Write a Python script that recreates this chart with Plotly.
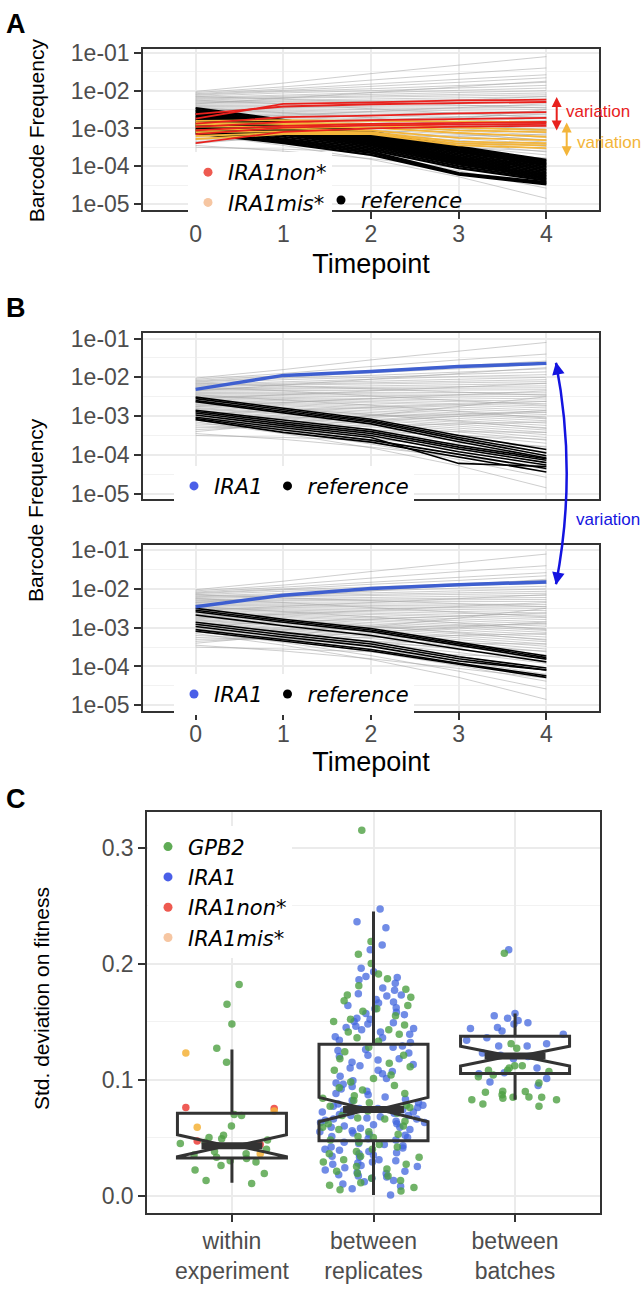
import plotly.graph_objects as go

W, H = 644, 1292
FONT = "Liberation Sans, Arial, sans-serif"
LEG_FONT = "DejaVu Sans, Verdana, sans-serif"

TIMEPOINTS = [0, 1, 2, 3, 4]
FREQ_TICKS = [1e-5, 1e-4, 1e-3, 1e-2, 1e-1]
FREQ_LABELS = ["1e-05", "1e-04", "1e-03", "1e-02", "1e-01"]
FREQ_MINOR = [3.16e-5, 3.16e-4, 3.16e-3, 3.16e-2]

# log10 barcode frequency at timepoints 0..4
BACKGROUND = [
    [-2.02, -1.80, -1.55, -1.32, -1.10], [-2.05, -1.90, -1.72, -1.55, -1.40],
    [-2.08, -1.95, -1.82, -1.70, -1.58], [-2.10, -2.00, -1.88, -1.78, -1.66],
    [-2.12, -2.02, -1.95, -1.86, -1.78], [-2.15, -2.06, -2.00, -1.92, -1.86],
    [-2.18, -2.12, -2.05, -1.98, -1.93], [-2.20, -2.15, -2.10, -2.05, -2.00],
    [-2.22, -2.18, -2.14, -2.10, -2.06], [-2.25, -2.20, -2.17, -2.14, -2.11],
    [-2.28, -2.25, -2.22, -2.19, -2.16], [-2.30, -2.28, -2.26, -2.24, -2.22],
    [-2.32, -2.30, -2.29, -2.28, -2.27], [-2.35, -2.34, -2.33, -2.33, -2.32],
    [-2.38, -2.38, -2.38, -2.39, -2.40], [-2.40, -2.41, -2.42, -2.43, -2.45],
    [-2.42, -2.44, -2.46, -2.48, -2.50], [-2.45, -2.47, -2.50, -2.53, -2.56],
    [-2.48, -2.51, -2.55, -2.58, -2.62], [-2.50, -2.54, -2.58, -2.63, -2.68],
    [-2.52, -2.57, -2.62, -2.68, -2.74], [-2.55, -2.60, -2.66, -2.72, -2.79],
    [-2.58, -2.64, -2.70, -2.77, -2.85], [-2.60, -2.67, -2.74, -2.82, -2.90],
    [-2.62, -2.70, -2.78, -2.87, -2.96], [-2.65, -2.73, -2.82, -2.92, -3.02],
    [-2.68, -2.77, -2.86, -2.96, -3.07], [-2.70, -2.80, -2.90, -3.01, -3.12],
    [-2.72, -2.83, -2.94, -3.06, -3.18], [-2.75, -2.86, -2.98, -3.11, -3.24],
    [-2.78, -2.90, -3.03, -3.16, -3.30], [-2.80, -2.93, -3.07, -3.21, -3.36],
    [-2.82, -2.96, -3.10, -3.26, -3.42], [-2.85, -3.00, -3.15, -3.31, -3.48],
    [-2.88, -3.03, -3.19, -3.36, -3.55], [-2.90, -3.06, -3.23, -3.41, -3.62],
    [-2.92, -3.10, -3.28, -3.48, -3.70], [-2.95, -3.14, -3.34, -3.56, -3.80],
    [-2.98, -3.18, -3.40, -3.64, -3.92], [-3.00, -3.22, -3.46, -3.74, -4.05],
    [-3.02, -3.27, -3.55, -3.86, -4.20], [-3.05, -3.32, -3.62, -3.98, -4.38],
    [-3.10, -3.38, -3.72, -4.12, -4.58], [-3.15, -3.45, -3.82, -4.28, -4.85],
    [-3.20, -3.30, -3.40, -3.50, -3.60], [-3.25, -3.32, -3.36, -3.40, -3.42],
    [-3.30, -3.28, -3.25, -3.20, -3.15], [-3.35, -3.25, -3.12, -3.00, -2.85],
    [-3.40, -3.20, -2.98, -2.75, -2.50], [-3.45, -3.60, -3.80, -4.05, -4.30],
    [-3.50, -3.55, -3.62, -3.70, -3.78], [-2.15, -2.22, -2.30, -2.38, -2.46],
    [-2.35, -2.20, -2.05, -1.90, -1.75], [-2.55, -2.45, -2.35, -2.25, -2.15],
    [-2.75, -2.65, -2.55, -2.45, -2.35], [-2.95, -2.85, -2.78, -2.70, -2.62],
    [-3.10, -3.05, -3.00, -2.95, -2.90], [-2.25, -2.35, -2.48, -2.60, -2.72],
    [-2.45, -2.58, -2.72, -2.88, -3.05], [-2.65, -2.80, -2.96, -3.13, -3.32],
]

REF_A = [
    [-2.46, -2.78, -3.09, -3.48, -3.83], [-2.50, -2.81, -3.12, -3.52, -3.87],
    [-2.54, -2.84, -3.15, -3.56, -3.91], [-2.58, -2.87, -3.18, -3.60, -3.95],
    [-2.62, -2.90, -3.21, -3.63, -3.98], [-2.66, -2.93, -3.24, -3.67, -4.02],
    [-2.70, -2.96, -3.27, -3.71, -4.06], [-2.74, -2.99, -3.30, -3.75, -4.10],
    [-2.78, -3.02, -3.33, -3.79, -4.14], [-2.82, -3.05, -3.37, -3.83, -4.18],
    [-2.86, -3.09, -3.41, -3.87, -4.22], [-2.90, -3.13, -3.45, -3.91, -4.26],
    [-2.94, -3.17, -3.49, -3.95, -4.30], [-2.98, -3.22, -3.53, -4.00, -4.34],
    [-3.02, -3.27, -3.57, -4.05, -4.38], [-3.06, -3.31, -3.61, -4.18, -4.42],
    [-3.10, -3.35, -3.65, -4.20, -4.45], [-3.13, -3.39, -3.70, -4.22, -4.48],
]
MIS_A = [
    [-2.80, -2.78, -2.80, -2.82, -2.83], [-2.90, -2.85, -2.88, -2.98, -3.04],
    [-2.95, -2.95, -2.98, -3.12, -3.22], [-3.05, -3.00, -3.05, -3.25, -3.31],
    [-3.10, -3.08, -3.10, -3.35, -3.39], [-3.20, -3.12, -3.12, -3.40, -3.45],
    [-3.28, -3.15, -3.15, -3.45, -3.52], [-2.85, -2.88, -2.92, -3.05, -3.10],
]
NON_A = [
    [-2.74, -2.35, -2.31, -2.26, -2.24], [-2.62, -2.42, -2.36, -2.32, -2.30],
    [-2.87, -2.70, -2.66, -2.60, -2.57], [-2.96, -2.83, -2.78, -2.75, -2.72],
    [-3.05, -2.93, -2.88, -2.85, -2.83], [-3.39, -3.09, -3.00, -2.95, -2.93],
    [-3.15, -2.98, -2.92, -2.90, -2.88],
]

IRA1_B1 = [-2.31, -1.95, -1.85, -1.72, -1.64]
REF_B1 = [
    [-2.51, -2.80, -3.08, -3.50, -3.86], [-2.55, -2.84, -3.12, -3.55, -3.95],
    [-2.60, -2.88, -3.15, -3.60, -4.02], [-2.63, -2.92, -3.20, -3.66, -4.08],
    [-2.85, -3.10, -3.35, -3.75, -4.10], [-2.88, -3.15, -3.40, -3.80, -4.14],
    [-2.92, -3.20, -3.45, -3.85, -4.20], [-2.97, -3.25, -3.50, -3.92, -4.26],
    [-3.03, -3.30, -3.55, -4.22, -4.30], [-3.06, -3.36, -3.62, -3.98, -4.35],
    [-3.09, -3.42, -3.67, -4.05, -4.44],
]
IRA1_B2 = [-2.46, -2.16, -1.99, -1.89, -1.82]
REF_B2 = [
    [-2.50, -2.78, -3.02, -3.38, -3.73], [-2.55, -2.82, -3.06, -3.42, -3.77],
    [-2.59, -2.86, -3.10, -3.46, -3.81], [-2.67, -2.95, -3.20, -3.55, -3.88],
    [-2.86, -3.12, -3.36, -3.75, -4.04], [-2.91, -3.18, -3.42, -3.80, -4.09],
    [-2.97, -3.24, -3.48, -3.86, -4.09], [-3.05, -3.30, -3.56, -3.92, -4.24],
    [-3.09, -3.35, -3.60, -3.94, -4.28],
]

# panel C
CATEGORIES = ["within<br>experiment", "between<br>replicates", "between<br>batches"]
Q1 = [0.0325, 0.0472, 0.1053]
MEDIAN = [0.043, 0.0742, 0.1203]
Q3 = [0.071, 0.1305, 0.1373]
LOWER = [0.011, 0.0005, 0.0827]
UPPER = [0.126, 0.245, 0.157]
NOTCH = [0.0095, 0.0105, 0.0085]

GPB2_WITHIN = [0.182, 0.165, 0.148, 0.127, 0.115, 0.070, 0.069, 0.060, 0.052, 0.050, 0.049,
               0.048, 0.046, 0.045, 0.040, 0.038, 0.036, 0.035, 0.033, 0.032, 0.030, 0.029,
               0.026, 0.022, 0.019, 0.013, 0.0105]
NON_WITHIN = [0.076, 0.075, 0.047, 0.044]
MIS_WITHIN = [0.123, 0.073, 0.059, 0.036]

IRA1_REP = [0.247, 0.236, 0.231, 0.216, 0.212, 0.196, 0.193, 0.189, 0.188, 0.186, 0.183, 0.179,
            0.177, 0.174, 0.173, 0.172, 0.169, 0.167, 0.166, 0.164, 0.162, 0.161, 0.158, 0.157,
            0.156, 0.153, 0.152, 0.150, 0.149, 0.148, 0.146, 0.145, 0.144, 0.143, 0.141, 0.139,
            0.137, 0.136, 0.134, 0.132, 0.129, 0.128, 0.126, 0.125, 0.123, 0.121, 0.120, 0.118,
            0.117, 0.115, 0.113, 0.112, 0.110, 0.108, 0.107, 0.105, 0.103, 0.101, 0.099, 0.097,
            0.096, 0.094, 0.092, 0.090, 0.088, 0.087, 0.085, 0.083, 0.082, 0.080, 0.079, 0.078,
            0.077, 0.076, 0.075, 0.075, 0.074, 0.073, 0.072, 0.072, 0.071, 0.070, 0.069, 0.069,
            0.068, 0.067, 0.066, 0.066, 0.065, 0.064, 0.063, 0.063, 0.062, 0.061, 0.060, 0.059,
            0.059, 0.058, 0.057, 0.056, 0.055, 0.054, 0.053, 0.052, 0.051, 0.050, 0.049, 0.048,
            0.046, 0.045, 0.044, 0.043, 0.042, 0.041, 0.040, 0.039, 0.038, 0.037, 0.036, 0.035,
            0.034, 0.033, 0.031, 0.030, 0.029, 0.028, 0.027, 0.026, 0.025, 0.024, 0.022, 0.021,
            0.020, 0.019, 0.018, 0.017, 0.016, 0.015, 0.013, 0.012, 0.010, 0.008, 0.006, 0.0005]
GPB2_REP = [0.315, 0.219, 0.208, 0.200, 0.191, 0.187, 0.181, 0.178, 0.173, 0.171, 0.168, 0.164,
            0.161, 0.159, 0.155, 0.152, 0.150, 0.147, 0.143, 0.141, 0.139, 0.136, 0.133, 0.128,
            0.124, 0.121, 0.118, 0.114, 0.111, 0.108, 0.104, 0.101, 0.098, 0.095, 0.093, 0.091,
            0.088, 0.086, 0.084, 0.082, 0.080, 0.078, 0.077, 0.076, 0.073, 0.071, 0.069, 0.067,
            0.066, 0.064, 0.062, 0.060, 0.059, 0.057, 0.055, 0.053, 0.051, 0.050, 0.048, 0.046,
            0.044, 0.042, 0.040, 0.038, 0.036, 0.034, 0.033, 0.031, 0.029, 0.027, 0.025, 0.023,
            0.021, 0.019, 0.017, 0.015, 0.013, 0.011, 0.009, 0.007, 0.005, 0.004]

IRA1_BATCH = [0.212, 0.157, 0.155, 0.153, 0.151, 0.149, 0.148, 0.145, 0.144, 0.142, 0.139, 0.136,
              0.134, 0.131, 0.129, 0.129, 0.123, 0.121, 0.120, 0.118, 0.110, 0.106, 0.105, 0.101,
              0.098, 0.095]
GPB2_BATCH = [0.209, 0.131, 0.127, 0.112, 0.112, 0.110, 0.108, 0.108, 0.107, 0.104, 0.1025,
              0.097, 0.090, 0.0897, 0.089, 0.087, 0.085, 0.0847, 0.0847, 0.084, 0.0827, 0.0827,
              0.079, 0.077]

GRAY = "rgba(165,165,165,0.55)"
RED = "#e8211d"
ORANGE = "#f3b53a"
BLUE_LINE = "#3e5fd0"
ARROW_BLUE = "#1414e0"
GREEN_PT = "rgba(78,160,66,0.8)"
BLUE_PT = "rgba(66,102,222,0.75)"
RED_PT = "rgba(236,62,56,0.85)"
ORANGE_PT = "rgba(245,178,55,0.85)"
LEG_COLORS = {"GPB2": "#5fab55", "IRA1": "#4a5fe8", "IRA1non*": "#ee5a50",
              "IRA1mis*": "#f6c6a2", "reference": "#000000"}


def px_x(p):
    return p / W


def px_y(p):
    return 1 - p / H


def stacked(lines):
    xs, ys = [], []
    for line in lines:
        xs += TIMEPOINTS + [None]
        ys += [10 ** v for v in line] + [None]
    return xs, ys


def add_lines(fig, lines, color, width, xa, ya):
    xs, ys = stacked(lines)
    fig.add_trace(go.Scatter(x=xs, y=ys, mode="lines", line=dict(color=color, width=width),
                             xaxis=xa, yaxis=ya, showlegend=False, hoverinfo="skip"))


def add_proxy(fig, name, legend, xa, ya):
    fig.add_trace(go.Scatter(x=[None], y=[None], mode="markers", name=f"<i>{name}</i>",
                             marker=dict(color=LEG_COLORS[name], size=9),
                             xaxis=xa, yaxis=ya, legend=legend, showlegend=True))


fig = go.Figure()

# Panel A
add_lines(fig, BACKGROUND, GRAY, 1, "x", "y")
add_lines(fig, REF_A, "black", 2.2, "x", "y")
add_lines(fig, MIS_A, ORANGE, 1.8, "x", "y")
add_lines(fig, NON_A, RED, 1.8, "x", "y")
add_proxy(fig, "IRA1non*", "legend", "x", "y")
add_proxy(fig, "IRA1mis*", "legend", "x", "y")
add_proxy(fig, "reference", "legend2", "x", "y")

# Panel B
for xa, ya, ira1, ref, leg in [("x2", "y2", IRA1_B1, REF_B1, "legend3"),
                               ("x3", "y3", IRA1_B2, REF_B2, "legend4")]:
    add_lines(fig, BACKGROUND, GRAY, 1, xa, ya)
    add_lines(fig, ref, "black", 1.6, xa, ya)
    add_lines(fig, [ira1], BLUE_LINE, 3.5, xa, ya)
    add_proxy(fig, "IRA1", leg, xa, ya)
    add_proxy(fig, "reference", leg, xa, ya)

# Panel C points
point_groups = [
    (CATEGORIES[0], GPB2_WITHIN, GREEN_PT), (CATEGORIES[0], NON_WITHIN, RED_PT),
    (CATEGORIES[0], MIS_WITHIN, ORANGE_PT),
    (CATEGORIES[1], IRA1_REP, BLUE_PT), (CATEGORIES[1], GPB2_REP, GREEN_PT),
    (CATEGORIES[2], IRA1_BATCH, BLUE_PT), (CATEGORIES[2], GPB2_BATCH, GREEN_PT),
]
for cat, vals, col in point_groups:
    fig.add_trace(go.Box(x=[cat] * len(vals), y=vals, boxpoints="all", jitter=1, pointpos=0,
                         width=0.77, fillcolor="rgba(0,0,0,0)",
                         line=dict(color="rgba(0,0,0,0)", width=0),
                         marker=dict(color=col, size=7.5), xaxis="x4", yaxis="y4",
                         showlegend=False, hoveron="points"))

fig.add_trace(go.Box(x=CATEGORIES, q1=Q1, median=MEDIAN, q3=Q3, lowerfence=LOWER,
                     upperfence=UPPER, notchspan=NOTCH, notched=True, notchwidth=0.45,
                     whiskerwidth=0, width=0.77, boxpoints=False,
                     fillcolor="rgba(0,0,0,0)", line=dict(color="#333333", width=3),
                     xaxis="x4", yaxis="y4", showlegend=False))
fig.add_trace(go.Box(x=CATEGORIES, q1=MEDIAN, median=MEDIAN, q3=MEDIAN, lowerfence=MEDIAN,
                     upperfence=MEDIAN, whiskerwidth=0, width=0.43, boxpoints=False,
                     fillcolor="rgba(0,0,0,0)", line=dict(color="#333333", width=7),
                     xaxis="x4", yaxis="y4", showlegend=False, hoverinfo="skip"))
for name in ["GPB2", "IRA1", "IRA1non*", "IRA1mis*"]:
    add_proxy(fig, name, "legend5", "x4", "y4")

axis_style = dict(showline=True, mirror=True, linecolor="#333333", linewidth=1.5,
                  ticks="outside", ticklen=7, tickwidth=2, tickcolor="#333333",
                  tickfont=dict(family=FONT, size=23, color="#4d4d4d"),
                  showgrid=True, gridcolor="#ebebeb", gridwidth=2, zeroline=False)
minor_log = dict(tickvals=FREQ_MINOR, showgrid=True, gridcolor="#f2f2f2", gridwidth=1, ticks="")
title_font = dict(family=FONT, size=27, color="black")

xd = [px_x(143), px_x(599)]
xaxis_time = dict(axis_style, range=[-0.6, 4.6], tickvals=TIMEPOINTS, ticklabelstandoff=-5)
yaxis_freq = dict(axis_style, type="log", tickvals=FREQ_TICKS, ticktext=FREQ_LABELS,
                  minor=minor_log)

leg_common = dict(bgcolor="white", font=dict(family=LEG_FONT, size=21, color="black"),
                  itemwidth=30, xanchor="left", yanchor="middle", tracegroupgap=0)

fig.update_layout(
    width=W, height=H,
    margin=dict(l=0, r=0, t=0, b=0),
    paper_bgcolor="white", plot_bgcolor="white",
    boxmode="overlay",
    xaxis=dict(xaxis_time, domain=xd, anchor="y",
               title=dict(text="Timepoint", font=title_font, standoff=8)),
    yaxis=dict(yaxis_freq, domain=[px_y(203.3), px_y(40)], anchor="x", range=[-5.17, -0.91]),
    xaxis2=dict(xaxis_time, domain=xd, anchor="y2", showticklabels=False, ticks=""),
    yaxis2=dict(yaxis_freq, domain=[px_y(496), px_y(327.7)], anchor="x2", range=[-5.14, -0.86]),
    xaxis3=dict(xaxis_time, domain=xd, anchor="y3",
                title=dict(text="Timepoint", font=title_font, standoff=4)),
    yaxis3=dict(yaxis_freq, domain=[px_y(711), px_y(542.7)], anchor="x3", range=[-5.15, -0.87]),
    xaxis4=dict(axis_style, domain=[px_x(147), px_x(600)], anchor="y4", type="category",
                categoryorder="array", categoryarray=CATEGORIES, range=[-0.6, 2.6]),
    yaxis4=dict(axis_style, domain=[px_y(1220), px_y(813)], anchor="x4",
                range=[-0.015, 0.331], tickvals=[0, 0.1, 0.2, 0.3],
                ticktext=["0.0", "0.1", "0.2", "0.3"],
                minor=dict(tickvals=[0.05, 0.15, 0.25], showgrid=True, gridcolor="#f2f2f2",
                           gridwidth=1, ticks="")),
    legend=dict(leg_common, x=px_x(188), y=px_y(180)),
    legend2=dict(leg_common, x=px_x(321), y=px_y(193), bgcolor="rgba(255,255,255,0)"),
    legend3=dict(leg_common, x=px_x(174), y=px_y(483), orientation="h"),
    legend4=dict(leg_common, x=px_x(174), y=px_y(694), orientation="h"),
    legend5=dict(leg_common, x=px_x(148), y=px_y(828), yanchor="top"),
)

annotations = [
    dict(text="<b>A</b>", x=px_x(4), y=px_y(14)),
    dict(text="<b>B</b>", x=px_x(4), y=px_y(302)),
    dict(text="<b>C</b>", x=px_x(4), y=px_y(800)),
]
for a in annotations:
    a.update(xref="paper", yref="paper", xanchor="left", yanchor="middle", showarrow=False,
             font=dict(family=FONT, size=27, color="black"))

ytitles = [("Barcode Frequency", 36, 122), ("Barcode Frequency", 36, 507),
           ("Std. deviation on fitness", 41, 1003)]
for text, xp, yp in ytitles:
    annotations.append(dict(text=text, x=px_x(xp), y=px_y(yp), xref="paper", yref="paper",
                            textangle=-90, showarrow=False, xanchor="center", yanchor="middle",
                            font=dict(family=FONT, size=21, color="black")))

# variation labels and arrows
labels = [("variation", RED, 564, 103), ("variation", ORANGE, 575, 134),
          ("variation", ARROW_BLUE, 574, 517)]
for text, col, xp, yp in labels:
    annotations.append(dict(text=text, x=px_x(xp), y=px_y(yp), xref="paper", yref="paper",
                            showarrow=False, xanchor="left", yanchor="middle",
                            font=dict(family=FONT, size=17, color=col)))
arrows = [(RED, 556.7, 88.3, 0, 35), (ORANGE, 566.7, 114, 0, 35.3)]
for col, xp, yp, dx, dy in arrows:
    annotations.append(dict(text="", x=px_x(xp), y=px_y(yp), xref="paper", yref="paper",
                            ax=dx, ay=dy, showarrow=True, arrowside="end+start", arrowhead=2,
                            arrowsize=1, arrowwidth=2, arrowcolor=col, standoff=0,
                            startstandoff=0))
for yp, dy in [(357, 12), (583, -12)]:
    annotations.append(dict(text="", x=px_x(556), y=px_y(yp), xref="paper", yref="paper",
                            ax=2.3, ay=dy, showarrow=True, arrowhead=2, arrowsize=1,
                            arrowwidth=2.5, arrowcolor=ARROW_BLUE, standoff=0))
fig.update_layout(annotations=annotations)

fig.add_shape(type="path", xref="paper", yref="paper",
              path=(f"M {px_x(556)},{px_y(358)} Q {px_x(577.4)},{px_y(470)} "
                    f"{px_x(556)},{px_y(582)}"),
              line=dict(color=ARROW_BLUE, width=2.5))

fig.write_html("out.html", config={"displayModeBar": False},
               post_script="document.body.style.margin='0';document.body.style.overflow='hidden';")
